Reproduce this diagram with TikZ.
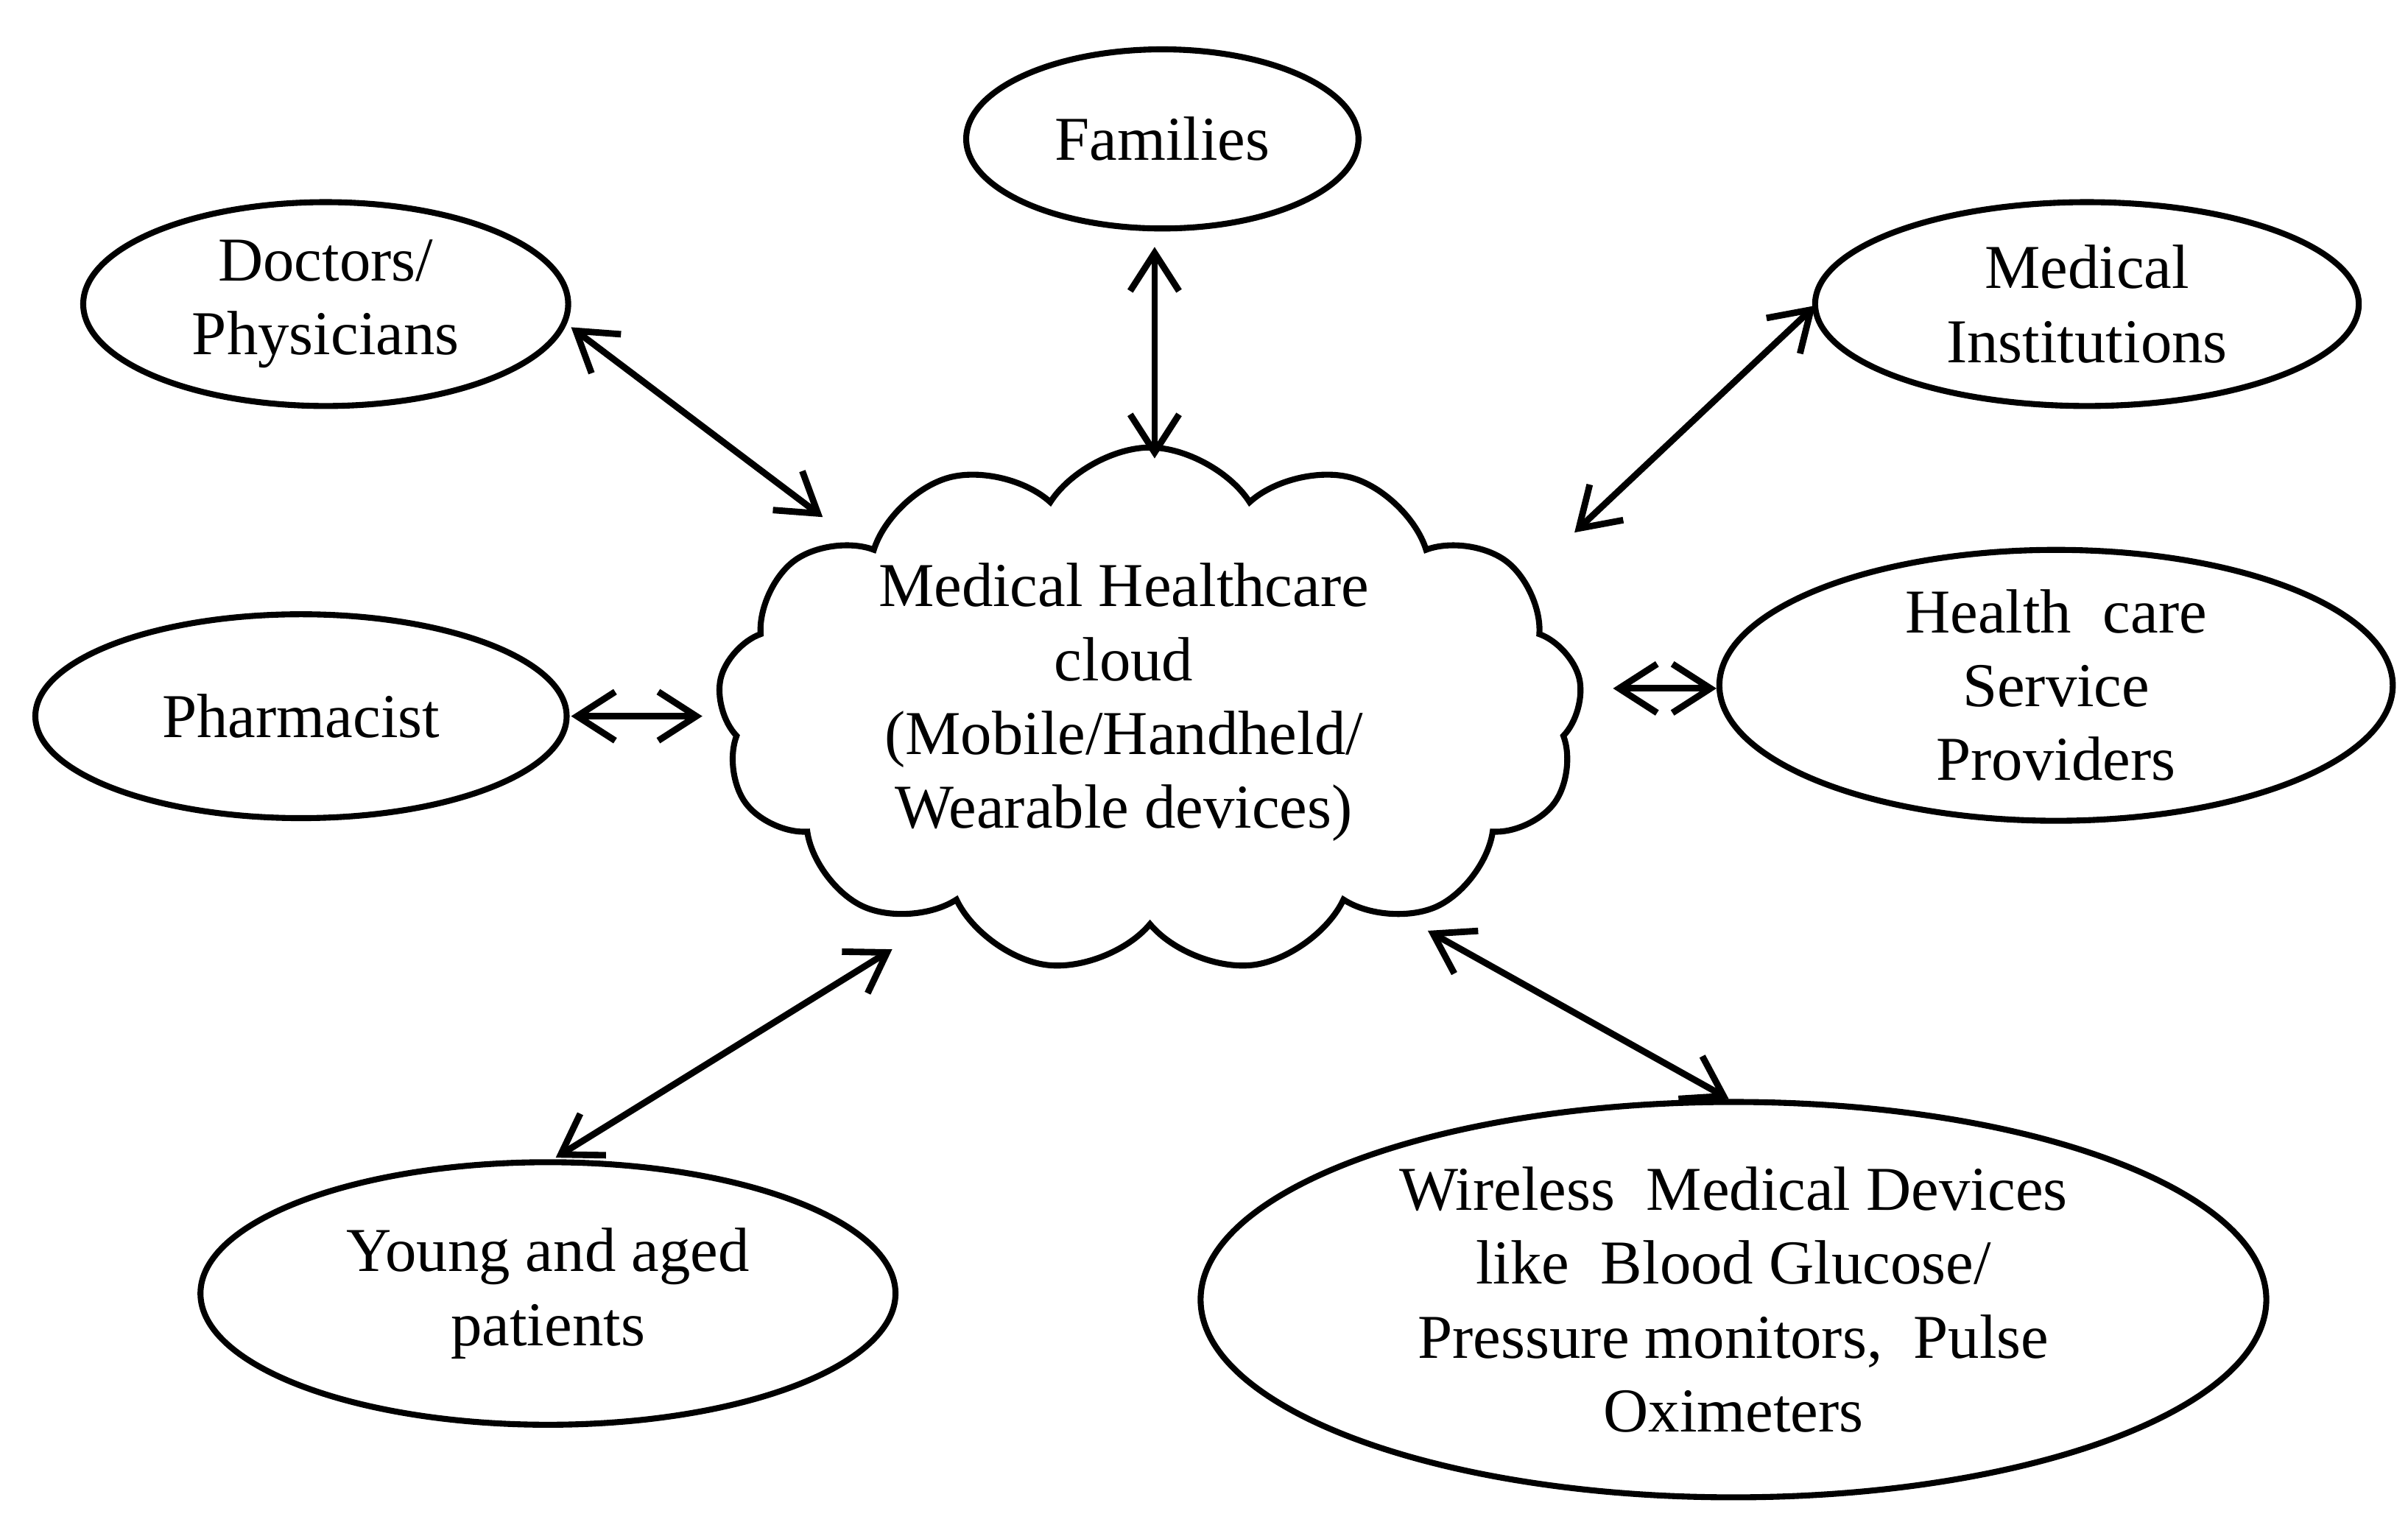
\documentclass[tikz,border=0pt]{standalone}
\usepackage{fontspec}
\setmainfont{Liberation Serif}
\usetikzlibrary{shapes.symbols,shapes.geometric,arrows.meta}
\begin{document}
\begin{tikzpicture}[x=0.01cm,y=-0.01cm,
  ell/.style={draw,line width=1.1pt,ellipse,inner sep=0pt,align=center,font=\fontsize{11.5}{13.6}\selectfont},
  lbl/.style={align=center,font=\fontsize{11.5}{13.6}\selectfont},
  con/.style={line width=1.2pt,{Straight Barb[length=7pt,width=9pt,line width=1.2pt]}-{Straight Barb[length=7pt,width=9pt,line width=1.2pt]}}]
\useasboundingbox (0,0) rectangle (1560,988);
\node[ell,minimum width=2.54cm,minimum height=1.16cm] (fam) at (753,90) {Families};
\node[ell,minimum width=3.14cm,minimum height=1.32cm] (doc) at (211,197) {Doctors/\\Physicians};
\node[ell,minimum width=3.52cm,minimum height=1.32cm] (mi) at (1352,197) {Medical\\Institutions};
\node[ell,minimum width=3.44cm,minimum height=1.32cm] (ph) at (195,464) {Pharmacist};
\node[ell,minimum width=4.36cm,minimum height=1.72cm] (hc) at (1332,444) {Health\ \ care\\Service\\Providers};
\node[ell,minimum width=4.5cm,minimum height=1.7cm] (yg) at (355,838) {Young and aged\\patients};
\node[ell,minimum width=6.9cm,minimum height=2.56cm] (wl) at (1123,842) {Wireless\ \ Medical Devices\\like\ \ Blood Glucose/\\Pressure monitors,\ \ Pulse\\Oximeters};
\node[draw,line width=1.1pt,cloud,cloud puffs=13,cloud puff arc=115,aspect=1.6,inner sep=0pt,minimum width=5.6cm,minimum height=3.4cm] (cl) at (745,460) {};
\node[lbl] (clt) at (728,455) {Medical Healthcare\\cloud\\(Mobile/Handheld/\\Wearable devices)};
\coordinate (a1) at (748,160); \coordinate (b1) at (748,297);
\coordinate (a2) at (370,212); \coordinate (b2) at (533,335);
\coordinate (a3) at (1176,198); \coordinate (b3) at (1020,345);
\coordinate (a4) at (370,464); \coordinate (b4) at (455,464);
\coordinate (a5) at (1112,446); \coordinate (b5) at (1045,446);
\coordinate (a6) at (360,750); \coordinate (b6) at (578,615);
\coordinate (a7) at (1120,712); \coordinate (b7) at (925,603);
\foreach \i in {1,...,7}{\draw[con] (a\i) -- (b\i);}
\end{tikzpicture}
\end{document}
